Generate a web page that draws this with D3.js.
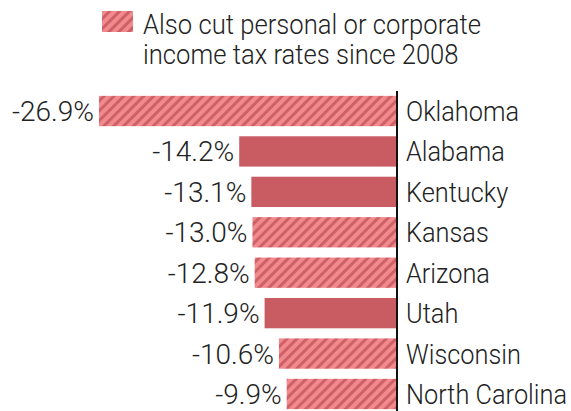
<!DOCTYPE html>
<html><head><meta charset="utf-8">
<script src="https://cdn.jsdelivr.net/npm/d3@7"></script>
<style>body{margin:0;background:#fff;} svg{display:block;} text{font-family:Roboto, "Open Sans", sans-serif;font-weight:300;fill:#222;}</style>
</head><body>
<svg id="chart" width="571" height="411"></svg>
<script>
const states = ["Oklahoma","Alabama","Kentucky","Kansas","Arizona","Utah","Wisconsin","North Carolina"];
const changes = [-26.9,-14.2,-13.1,-13.0,-12.8,-11.9,-10.6,-9.9];
const alsoCut = [true,false,false,true,true,false,true,true];
const legendLines = ["Also cut personal or corporate","income tax rates since 2008"];

const svg = d3.select("#chart");
const defs = svg.append("defs");
const pat = defs.append("pattern").attr("id","hatch").attr("patternUnits","userSpaceOnUse")
  .attr("width",7).attr("height",7).attr("patternTransform","rotate(45)");
pat.append("rect").attr("width",7).attr("height",7).attr("fill","#f08a8d");
pat.append("rect").attr("width",3).attr("height",7).attr("fill","#cf6068");

const x = d3.scaleLinear().domain([-26.9,0]).range([99,396]);
const y = d3.scaleBand().domain(states).range([91,414]).paddingInner(0.25).paddingOuter(0.12);

const data = states.map((s,i)=>({s, v:changes[i], h:alsoCut[i]}));

svg.selectAll("rect.bar").data(data).join("rect").attr("class","bar")
  .attr("x",d=>x(d.v)).attr("width",d=>x(0)-x(d.v))
  .attr("y",d=>y(d.s)).attr("height",y.bandwidth())
  .attr("fill",d=>d.h?"url(#hatch)":"#c95c63");

svg.append("line").attr("x1",x(0)+1).attr("x2",x(0)+1).attr("y1",91).attr("y2",411)
  .attr("stroke","#111").attr("stroke-width",2);

const cy = d => y(d.s)+y.bandwidth()/2 + 10;

svg.selectAll("text.val").data(data).join("text").attr("class","val")
  .attr("transform",d=>`translate(${x(d.v)-5},${cy(d)}) scale(1.0,1)`)
  .attr("text-anchor","end").attr("font-size",28).text(d=>d.v.toFixed(1)+"%");

svg.selectAll("text.lab").data(data).join("text").attr("class","lab")
  .attr("transform",d=>`translate(${x(0)+10},${cy(d)}) scale(0.905,1)`)
  .attr("font-size",28).text(d=>d.s);

svg.append("rect").attr("x",102).attr("y",11).attr("width",31).attr("height",21).attr("fill","url(#hatch)");
svg.selectAll("text.leg").data(legendLines).join("text").attr("class","leg")
  .attr("transform",(d,i)=>`translate(143,${34+i*30}) scale(0.95,1)`)
  .attr("font-size",27).text(d=>d);
</script>
</body></html>
